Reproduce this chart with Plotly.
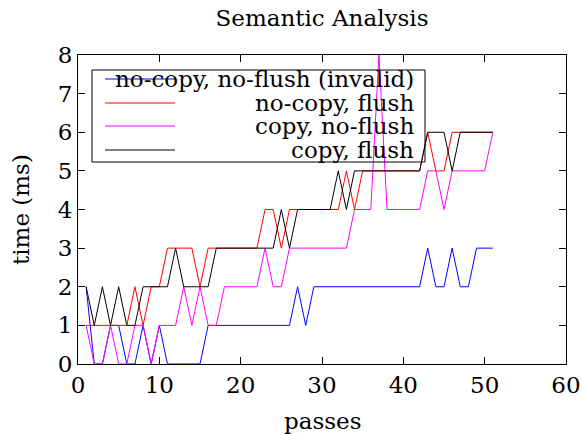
import plotly.graph_objects as go

passes = list(range(1, 52))

nocopy_noflush = [2, 0, 0, 1, 1, 0, 0, 1, 0, 1, 0, 0, 0, 0, 0, 1, 1, 1, 1, 1,
                  1, 1, 1, 1, 1, 1, 2, 1, 2, 2, 2, 2, 2, 2, 2, 2, 2, 2, 2, 2,
                  2, 2, 3, 2, 2, 3, 2, 2, 3, 3, 3]
nocopy_flush = [1, 1, 1, 1, 1, 1, 2, 1, 2, 2, 3, 3, 3, 3, 2, 3, 3, 3, 3, 3,
                3, 3, 4, 4, 3, 4, 4, 4, 4, 4, 4, 4, 5, 4, 5, 5, 5, 5, 5, 5,
                5, 5, 6, 5, 5, 6, 6, 6, 6, 6, 6]
copy_noflush = [1, 0, 0, 1, 0, 0, 1, 1, 0, 1, 1, 1, 2, 1, 2, 1, 1, 2, 2, 2,
                2, 2, 3, 2, 2, 3, 3, 3, 3, 3, 3, 3, 3, 4, 4, 4, 8, 4, 4, 4,
                4, 4, 5, 5, 4, 5, 5, 5, 5, 5, 6]
copy_flush = [2, 1, 2, 1, 2, 1, 1, 2, 2, 2, 2, 3, 2, 2, 2, 2, 3, 3, 3, 3,
              3, 3, 3, 3, 4, 3, 4, 4, 4, 4, 4, 5, 4, 5, 5, 5, 5, 5, 5, 5,
              5, 5, 6, 6, 6, 5, 6, 6, 6, 6, 6]

series_names = ["no-copy, no-flush (invalid)", "no-copy, flush",
                "copy, no-flush", "copy, flush"]
series_values = [nocopy_noflush, nocopy_flush, copy_noflush, copy_flush]
series_colors = ["#0000ff", "#ff0000", "#ff00ff", "#000000"]

x_ticks = [0, 10, 20, 30, 40, 50, 60]
y_ticks = [0, 1, 2, 3, 4, 5, 6, 7, 8]

FONT = "DejaVu Serif"
FS = 23

fig = go.Figure()
for name, vals, col in zip(series_names, series_values, series_colors):
    fig.add_trace(go.Scatter(x=passes, y=vals, mode="lines", name=name,
                             line=dict(color=col, width=1), showlegend=False))

# custom gnuplot-style key
W, H = 583, 434
L, R, T, B = 78, 17, 55, 70
pw, ph = W - L - R, H - T - B


def px(xp):
    return (xp - L) / pw


def py(yp):
    return (H - B - yp) / ph


shapes = [dict(type="rect", xref="paper", yref="paper",
               x0=px(92), x1=px(425), y0=py(162), y1=py(70),
               line=dict(color="black", width=1), fillcolor="rgba(0,0,0,0)")]
annotations = []
rows = [79, 103, 126, 150]
for name, col, yr in zip(series_names, series_colors, rows):
    shapes.append(dict(type="line", xref="paper", yref="paper",
                       x0=px(105), x1=px(175), y0=py(yr), y1=py(yr),
                       line=dict(color=col, width=1)))
    annotations.append(dict(xref="paper", yref="paper", x=px(416), y=py(yr),
                            text=name, showarrow=False, xanchor="right",
                            yanchor="middle",
                            font=dict(family=FONT, size=FS, color="black")))

annotations.append(dict(xref="paper", yref="paper", x=0.5, y=py(421),
                        text="passes", showarrow=False, xanchor="center",
                        yanchor="middle",
                        font=dict(family=FONT, size=FS, color="black")))
annotations.append(dict(xref="paper", yref="paper", x=px(21), y=py(210),
                        text="time (ms)", showarrow=False, textangle=-90,
                        xanchor="center", yanchor="middle",
                        font=dict(family=FONT, size=FS, color="black")))

axis_common = dict(showline=True, linecolor="black", linewidth=1, mirror="allticks",
                   ticks="inside", ticklen=7, tickcolor="black", tickwidth=1,
                   showgrid=False, zeroline=False, automargin=False,
                   tickfont=dict(family=FONT, size=FS, color="black"))

fig.update_layout(
    width=W, height=H,
    margin=dict(l=L, r=R, t=T, b=B, autoexpand=False),
    paper_bgcolor="white", plot_bgcolor="white",
    title=dict(text="Semantic Analysis", x=0.5, xref="paper", xanchor="center",
               y=1 - 18 / H, yref="container", yanchor="middle",
               font=dict(family=FONT, size=FS, color="black")),
    xaxis=dict(range=[0, 60], tickvals=x_ticks, **axis_common),
    yaxis=dict(range=[0, 8], tickvals=y_ticks, **axis_common),
    shapes=shapes, annotations=annotations,
)

fig.write_html("out.html",
               config={"displayModeBar": False},
               post_script="document.body.style.margin='0';"
                           "document.body.style.overflow='hidden';")
